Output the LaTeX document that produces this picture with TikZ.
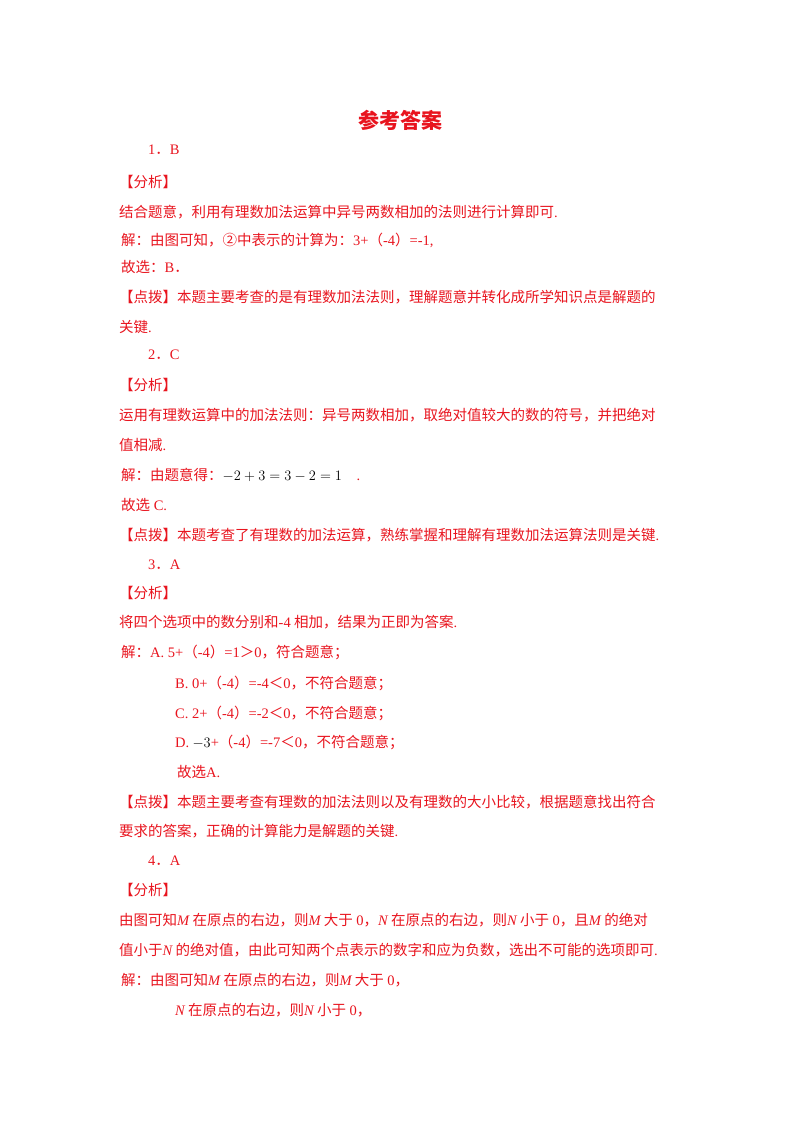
\documentclass[tikz,border=0pt]{standalone}
\usepackage{fontspec}
\setmainfont{Noto Sans CJK SC}
\newfontfamily\lat{Liberation Serif}
\definecolor{ansred}{HTML}{E8141E}
\newcommand{\LL}[1]{{\lat #1}}
\newcommand{\II}[1]{{\lat\itshape #1}}
\begin{document}
\begin{tikzpicture}[x=1pt,y=-1pt,
  ln/.style={anchor=west,inner sep=0pt,text=ansred,font=\fontsize{14.5}{16}\selectfont}]
\useasboundingbox (0,0) rectangle (800,1132);
\node[text=ansred,font=\fontsize{21}{24}\selectfont\bfseries] (title) at (400,120) {参考答案};
\node[ln] (a1) at (148,150) {\LL{1}．\LL{B}};
\node[ln] (a2) at (119,182) {【分析】};
\node[ln] (a3) at (119,212) {结合题意，利用有理数加法运算中异号两数相加的法则进行计算即可\LL{.}};
\node[ln] (a4) at (121,240) {解：由图可知，②中表示的计算为：\LL{3+}（\LL{-4}）\LL{=-1,}};
\node[ln] (a5) at (121,267) {故选：\LL{B}．};
\node[ln] (a6) at (119,297) {【点拨】本题主要考查的是有理数加法法则，理解题意并转化成所学知识点是解题的};
\node[ln] (a7) at (119,327) {关键\LL{.}};
\node[ln] (b1) at (148,355) {\LL{2}．\LL{C}};
\node[ln] (b2) at (119,385) {【分析】};
\node[ln] (b3) at (119,415) {运用有理数运算中的加法法则：异号两数相加，取绝对值较大的数的符号，并把绝对};
\node[ln] (b4) at (119,445) {值相减\LL{.}};
\node[ln] (b5) at (121,475) {解：由题意得：\textcolor{black}{\LL{$-2+3=3-2=1$}}\quad\LL{.}};
\node[ln] (b6) at (121,505) {故选\LL{ C.}};
\node[ln] (b7) at (119,535) {【点拨】本题考查了有理数的加法运算，熟练掌握和理解有理数加法运算法则是关键\LL{.}};
\node[ln] (c1) at (148,565) {\LL{3}．\LL{A}};
\node[ln] (c2) at (119,593) {【分析】};
\node[ln] (c3) at (119,622) {将四个选项中的数分别和\LL{-4} 相加，结果为正即为答案\LL{.}};
\node[ln] (c4) at (121,652) {解：\LL{A. 5+}（\LL{-4}）\LL{=1}＞\LL{0}，符合题意；};
\node[ln] (c5) at (175,683) {\LL{B. 0+}（\LL{-4}）\LL{=-4}＜\LL{0}，不符合题意；};
\node[ln] (c6) at (175,713) {\LL{C. 2+}（\LL{-4}）\LL{=-2}＜\LL{0}，不符合题意；};
\node[ln] (c7) at (175,742) {\LL{D.} \textcolor{black}{\LL{$-3$}}\LL{+}（\LL{-4}）\LL{=-7}＜\LL{0}，不符合题意；};
\node[ln] (c8) at (177,772) {故选\LL{A.}};
\node[ln] (c9) at (119,802) {【点拨】本题主要考查有理数的加法法则以及有理数的大小比较，根据题意找出符合};
\node[ln] (c10) at (119,831) {要求的答案，正确的计算能力是解题的关键\LL{.}};
\node[ln] (d1) at (148,861) {\LL{4}．\LL{A}};
\node[ln] (d2) at (119,890) {【分析】};
\node[ln] (d3) at (119,920) {由图可知\II{M} 在原点的右边，则\II{M} 大于\LL{ 0}，\II{N} 在原点的右边，则\II{N} 小于\LL{ 0}，且\II{M} 的绝对};
\node[ln] (d4) at (119,950) {值小于\II{N} 的绝对值，由此可知两个点表示的数字和应为负数，选出不可能的选项即可\LL{.}};
\node[ln] (d5) at (121,980) {解：由图可知\II{M} 在原点的右边，则\II{M} 大于\LL{ 0}，};
\node[ln] (d6) at (175,1010) {\II{N} 在原点的右边，则\II{N} 小于\LL{ 0}，};
\end{tikzpicture}
\end{document}
